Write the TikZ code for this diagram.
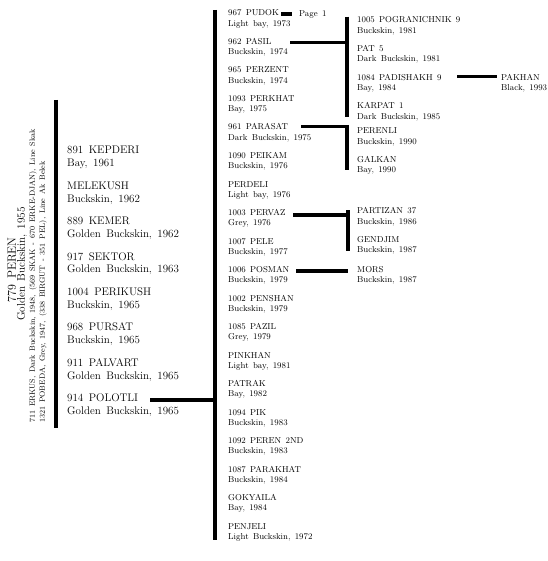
\documentclass[tikz,border=0pt]{standalone}
\newcommand\wsp{\spaceskip=.5em plus .1em\relax}
\begin{document}
\begin{tikzpicture}[x=1pt,y=-1pt,
  nmA/.style={font=\fontsize{11}{13}\selectfont\wsp, inner sep=0pt, anchor=base west},
  nmB/.style={font=\fontsize{8.6}{11}\selectfont\wsp, inner sep=0pt, anchor=base west},
  vbar/.style={line width=4pt},
  hbar/.style={line width=3.6pt},
  rot/.style={rotate=90, inner sep=0pt}]
\useasboundingbox (0,0) rectangle (547,561);
% entry macros: name, x, y of name centre, name line, detail line
\newcommand\entA[5]{%
  \node[nmA] (#1) at (#2,#3+3.8) {#4};
  \node[nmA] (#1d) at ([yshift=-12.8pt]#1.base west) {#5};}
\newcommand\entB[5]{%
  \node[nmB] (#1) at (#2,#3+3.0) {#4};
  \node[nmB] (#1d) at ([yshift=-10.4pt]#1.base west) {#5};}

% --- the dam
\node[rot, font=\fontsize{12}{14}\selectfont\wsp] (peren) at (12,270) {779 PEREN};
\node[rot, font=\fontsize{11.2}{14}\selectfont\wsp] (perend) at (22,264) {Golden Buckskin, 1955};
\node[rot, anchor=west, font=\fontsize{7.6}{9}\selectfont\wsp] (sire) at (33,423)
  {711 ERKUS, Dark Buckskin, 1948, (569 SKAK - 670 ERKE-DJAN), Line Skak};
\node[rot, anchor=west, font=\fontsize{7.6}{9}\selectfont\wsp] (dam) at (43,423)
  {1321 POBEDA, Grey, 1947, (338 BIRGUT - 351 PEL), Line Ak Belek};

% --- column 1
\entA{kepderi}{67}{150}{891 KEPDERI}{Bay, 1961}
\entA{melekush}{67}{185.4}{MELEKUSH}{Buckskin, 1962}
\entA{kemer}{67}{220.8}{889 KEMER}{Golden Buckskin, 1962}
\entA{sektor}{67}{256.2}{917 SEKTOR}{Golden Buckskin, 1963}
\entA{perikush}{67}{291.6}{1004 PERIKUSH}{Buckskin, 1965}
\entA{pursat}{67}{327}{968 PURSAT}{Buckskin, 1965}
\entA{palvart}{67}{362.4}{911 PALVART}{Golden Buckskin, 1965}
\entA{polotli}{67}{397.8}{914 POLOTLI}{Golden Buckskin, 1965}

% --- column 2
\entB{pudok}{228}{13}{967 PUDOK}{Light bay, 1973}
\entB{pasil}{228}{41.5}{962 PASIL}{Buckskin, 1974}
\entB{perzent}{228}{70}{965 PERZENT}{Buckskin, 1974}
\entB{perkhat}{228}{98.5}{1093 PERKHAT}{Bay, 1975}
\entB{parasat}{228}{127}{961 PARASAT}{Dark Buckskin, 1975}
\entB{peikam}{228}{155.5}{1090 PEIKAM}{Buckskin, 1976}
\entB{perdeli}{228}{184}{PERDELI}{Light bay, 1976}
\entB{pervaz}{228}{212.5}{1003 PERVAZ}{Grey, 1976}
\entB{pele}{228}{241}{1007 PELE}{Buckskin, 1977}
\entB{posman}{228}{269.5}{1006 POSMAN}{Buckskin, 1979}
\entB{penshan}{228}{298}{1002 PENSHAN}{Buckskin, 1979}
\entB{pazil}{228}{326.5}{1085 PAZIL}{Grey, 1979}
\entB{pinkhan}{228}{355}{PINKHAN}{Light bay, 1981}
\entB{patrak}{228}{383.5}{PATRAK}{Bay, 1982}
\entB{pik}{228}{412}{1094 PIK}{Buckskin, 1983}
\entB{peren2}{228}{440.5}{1092 PEREN 2ND}{Buckskin, 1983}
\entB{parakhat}{228}{469}{1087 PARAKHAT}{Buckskin, 1984}
\entB{gokyaila}{228}{497.5}{GOKYAILA}{Bay, 1984}
\entB{penjeli}{228}{526}{PENJELI}{Light Buckskin, 1972}
\node[nmB, anchor=west] (page) at (299,14) {Page 1};

% --- column 3
\entB{pogran}{357}{20}{1005 POGRANICHNIK 9}{Buckskin, 1981}
\entB{pat}{357}{48.5}{PAT 5}{Dark Buckskin, 1981}
\entB{padishakh}{357}{77.2}{1084 PADISHAKH 9}{Bay, 1984}
\entB{karpat}{357}{106}{KARPAT 1}{Dark Buckskin, 1985}
\entB{perenli}{357}{130.7}{PERENLI}{Buckskin, 1990}
\entB{galkan}{357}{159.3}{GALKAN}{Bay, 1990}
\entB{partizan}{357}{210.8}{PARTIZAN 37}{Buckskin, 1986}
\entB{gendjim}{357}{239.3}{GENDJIM}{Buckskin, 1987}
\entB{mors}{357}{269.3}{MORS}{Buckskin, 1987}
% --- column 4
\entB{pakhan}{501}{77.2}{PAKHAN}{Black, 1993}

% --- bars (named end points)
\coordinate (b1t) at (56,100);   \coordinate (b1b) at (56,428);
\coordinate (b2t) at (215,10);   \coordinate (b2b) at (215,540);
\coordinate (b3t) at (347,16.7); \coordinate (b3b) at (347,116.7);
\coordinate (b4t) at (347,125);  \coordinate (b4b) at (347,170);
\coordinate (b5t) at (348,210);  \coordinate (b5b) at (348,250.7);
\draw[vbar] (b1t) -- (b1b);
\draw[vbar] (b2t) -- (b2b);
\draw[vbar] (b3t) -- (b3b);
\draw[vbar] (b4t) -- (b4b);
\draw[vbar] (b5t) -- (b5b);

% --- connectors
\coordinate (c0) at (150,400);
\coordinate (c1) at (281,14);   \coordinate (c1e) at (292,14);
\coordinate (c2) at (290,42.7);
\coordinate (c3) at (301,126.7);
\coordinate (c4) at (293,215);
\coordinate (c5) at (296,271);
\coordinate (c6) at (457,76.7);
\draw[hbar] (c0) -- (c0 -| b2t);
\draw[line width=4pt] (c1) -- (c1e);
\draw[hbar] (c2) -- (c2 -| b3t);
\draw[hbar] (c3) -- ([xshift=2pt]c3 -| b4t);
\draw[hbar] (c4) -- ([xshift=2pt]c4 -| b5t);
\draw[hbar] (c5) -- (c5 -| b5t);
\draw[hbar] (c6) -- ([xshift=-4pt]c6 -| pakhan.west);
\end{tikzpicture}
\end{document}
